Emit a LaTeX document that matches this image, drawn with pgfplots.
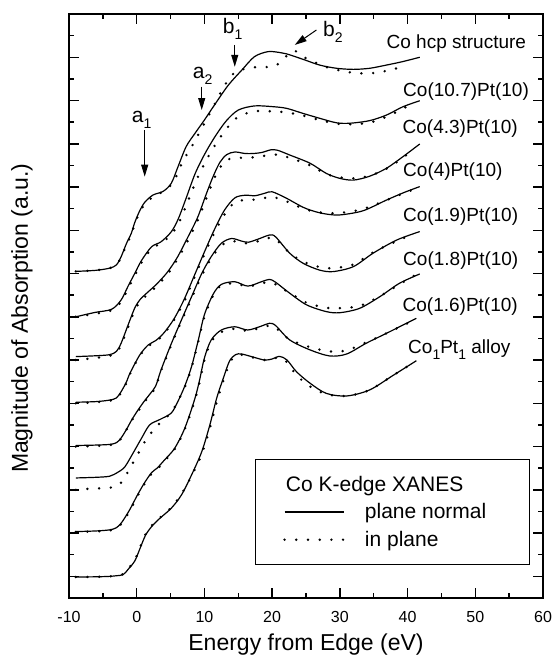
\documentclass[border=0pt]{standalone}
\usepackage{pgfplots}
\pgfplotsset{compat=1.18}
\usepackage{fontspec}
\setmainfont{Liberation Sans}
\usetikzlibrary{arrows.meta}
\tikzset{
  solidc/.style={black, line width=1.2pt, smooth, tension=0.5},
  dotc/.style={black, line width=2.7pt, line cap=round, dash pattern=on 0pt off 11.7pt, smooth, tension=0.5},
  ann/.style={black, line width=1pt, -{Triangle[length=12pt,width=7pt]}},
}
\newcommand{\sub}[1]{\raisebox{-6pt}{\fontsize{14}{14}\selectfont #1}}
\begin{document}
\begin{tikzpicture}
\useasboundingbox (-69pt,-62pt) rectangle (484pt,598pt);
\begin{axis}[
  at={(0,0)}, anchor=south west,
  scale only axis, width=474pt, height=584pt,
  xmin=-10, xmax=60, ymin=0, ymax=27,
  xtick={-10,0,...,60}, minor x tick num=1,
  xticklabels={{-10},0,10,20,30,40,50,60},
  ytick={1,3,...,25}, minor ytick={2,4,...,26},
  yticklabels={},
  xticklabel pos=bottom,
  xticklabel style={font=\fontsize{16}{16}\selectfont, inner sep=0pt, yshift=-13.5pt},
  axis line style={line width=1.8pt},
  every tick/.style={black, line width=1.5pt},
  major tick length=10pt, minor tick length=5pt,
  tick align=inside,
  clip=false,
  xlabel={Energy from Edge (eV)},
  xlabel style={font=\fontsize{23}{23}\selectfont, at={(axis description cs:0.5,-0.0805)}, anchor=center, inner sep=0pt},
  ylabel={Magnitude of Absorption (a.u.)},
  ylabel style={font=\fontsize{23}{23}\selectfont, at={(axis description cs:-0.0992,0.479)}, anchor=center, inner sep=0pt},
  legend style={at={(axis cs:17.43,6.43)}, anchor=north west, draw=black, line width=1pt, fill=white,
    font=\fontsize{21}{21}\selectfont, inner xsep=28pt, inner ysep=16.5pt, row sep=11pt,
    column sep=0pt, /tikz/every odd column/.append style={column sep=20pt},
    nodes={inner sep=0pt}},
  legend cell align=left,
  legend image code/.code={\draw[#1] (0pt,0pt) -- (59pt,0pt);},
]
% ---------- legend ----------
\addlegendimage{empty legend}
\addlegendentry{\hspace*{-79pt}Co K-edge XANES}
\addlegendimage{black, line width=1.2pt}
\addlegendentry{\makebox[137pt][l]{plane normal}}
\addlegendimage{black, line width=2.7pt, line cap=round, dash pattern=on 0pt off 11.7pt}
\addlegendentry{\makebox[137pt][l]{in plane}}

% ---------- Co hcp (offset 15) ----------
\addplot[solidc, forget plot] coordinates {(-9,15.1) (-6,15.15) (-4,15.25) (-3,15.4) (-2.3,15.78) (-1.5,16.4) (-0.8,16.86) (-0.3,17.35) (0.44,17.9) (1.2,18.3) (2.4,18.63) (3.9,18.8) (5.1,19.17) (6.1,19.94) (7.3,20.87) (8.6,21.48) (10,22.1) (11.5,22.8) (13.5,23.7) (15.5,24.4) (17.4,25.03) (19.4,25.26) (21.1,25.22) (22.1,25.16) (24.6,24.9) (27,24.64) (29.5,24.49) (32,24.44) (34.4,24.49) (36.9,24.64) (39.3,24.8) (41.8,25.0)};
\addplot[dotc, forget plot] coordinates {(-9,15.1) (-6,15.15) (-4,15.25) (-3,15.4) (-2.3,15.75) (-1.5,16.35) (-0.8,16.8) (-0.3,17.3) (0.44,17.85) (1.2,18.2) (2.4,18.55) (3.4,18.7) (5.1,19.1) (6,19.6) (6.8,20.2) (7.8,20.7) (8.8,21.25) (10.5,22.25) (11.3,22.7) (12.3,23.3) (13.2,23.8) (14.5,24.3) (16.4,24.5) (18.2,24.55) (19.9,24.55) (20.6,24.62) (21.5,24.85) (22.4,25.15) (23.3,25.3) (24.2,25.15) (25,24.95) (26.8,24.7) (28.5,24.5) (30.2,24.38) (32,24.28) (33.9,24.25) (35.7,24.3) (37.4,24.41) (39.3,24.56)};

% ---------- Co(10.7)Pt(10) (offset 13) ----------
\addplot[solidc, forget plot] coordinates {(-9,13.0) (-6.2,13.2) (-3.7,13.35) (-2.3,13.78) (-1.3,14.4) (-0.3,15.0) (0.7,15.6) (2.2,16.24) (3.6,16.47) (5.1,16.93) (6.1,17.5) (7.2,18.4) (8.6,19.6) (10,20.5) (11.5,21.3) (13.2,22.05) (15,22.56) (17.4,22.75) (19.9,22.72) (22.1,22.64) (24.6,22.4) (27,22.18) (29.5,21.97) (31.5,21.95) (34.4,22.07) (36.9,22.33) (39.3,22.71) (41.8,22.99)};
\addplot[dotc, forget plot] coordinates {(-9,13.0) (-6,13.15) (-3.7,13.3) (-2.3,13.7) (-1.3,14.3) (-0.3,14.9) (0.7,15.5) (2.2,16.15) (3.6,16.4) (5.1,16.8) (6.3,17.4) (7.5,18.3) (8.8,19.3) (10.2,20.2) (11.7,21.0) (13.4,21.75) (15,22.25) (17.4,22.5) (19.9,22.5) (22.1,22.45) (24.6,22.3) (27,22.1) (29.5,21.93) (31.5,21.9) (34.4,21.98) (36.9,22.25) (39.3,22.62) (41,22.9)};

% ---------- Co(4.3)Pt(10) (offset 11) ----------
\addplot[solidc, forget plot] coordinates {(-9,11.16) (-6,11.2) (-4,11.25) (-3,11.4) (-2.3,11.78) (-1.3,12.6) (-0.3,13.4) (0.5,13.8) (1.5,14.1) (2.9,14.5) (4.5,15.05) (6,15.75) (7.5,16.65) (9,17.6) (10.3,18.7) (11.3,19.5) (12.3,20.15) (13.3,20.5) (14.5,20.62) (16,20.55) (17.2,20.55) (18.5,20.6) (19.8,20.72) (20.8,20.7) (22.6,20.48) (25.6,20.1) (28,19.63) (30,19.4) (32,19.32) (34.4,19.5) (36.9,19.87) (39.3,20.4) (41.8,20.99)};
\addplot[dotc, forget plot] coordinates {(-9,11.0) (-6,11.1) (-4,11.2) (-3,11.35) (-2.3,11.7) (-1.3,12.5) (-0.3,13.3) (0.5,13.7) (1.5,14.0) (2.9,14.4) (4.5,14.95) (6,15.65) (7.5,16.5) (9,17.45) (10.3,18.5) (11.3,19.3) (12.3,19.9) (13.3,20.25) (14.5,20.35) (16,20.35) (17.5,20.38) (19,20.45) (20.5,20.5) (22.6,20.35) (25.6,20.0) (28,19.6) (30,19.45) (32,19.4) (34.4,19.52) (36.9,19.85) (39.3,20.35) (41,20.8)};

% ---------- Co(4)Pt(10) (offset 9) ----------
\addplot[solidc, forget plot] coordinates {(-9,9.05) (-6,9.08) (-4,9.15) (-3,9.25) (-2.3,9.54) (-1.5,10.0) (-1,10.39) (0.44,11.23) (1.7,11.7) (2.8,11.9) (4,12.25) (5.5,12.9) (7,13.8) (8.5,14.9) (10,16.0) (11.5,17.05) (13,17.95) (14.5,18.5) (16,18.62) (17.5,18.6) (19,18.72) (20,18.78) (22,18.5) (24.6,18.06) (26.5,17.85) (28,17.75) (30,17.71) (33.4,17.9) (36.9,18.4) (39.5,18.75) (41.8,19.02)};
\addplot[dotc, forget plot] coordinates {(-9,9.0) (-6,9.05) (-4,9.12) (-3,9.22) (-2.3,9.5) (-1.5,9.95) (-1,10.35) (0.44,11.2) (1.7,11.65) (2.8,11.85) (4,12.2) (5.5,12.85) (7,13.7) (8.5,14.8) (10,15.9) (11.5,16.9) (13,17.75) (14.5,18.3) (16,18.4) (17.5,18.42) (19,18.5) (20,18.55) (22,18.35) (24.6,18.0) (26.5,17.85) (28,17.8) (30,17.8) (33.4,17.98) (36.9,18.4) (39.5,18.72) (41,18.9)};

% ---------- Co(1.9)Pt(10) (offset 7) ----------
\addplot[solidc, forget plot] coordinates {(-9,7.05) (-6,7.07) (-4,7.1) (-3,7.18) (-2.3,7.4) (-1.5,7.8) (-0.8,8.2) (0,8.6) (1,9.05) (2,9.45) (2.8,9.8) (3.6,10.55) (5.1,11.75) (6.6,12.85) (8.1,13.93) (9.6,15.0) (11,15.78) (12.5,16.4) (14,16.62) (15.5,16.5) (16.5,16.45) (18,16.6) (19.6,16.78) (20.5,16.7) (22.6,15.94) (24.6,15.47) (27,15.16) (29,15.09) (32,15.32) (34.9,15.94) (38.4,16.55) (41.8,16.94)};
\addplot[dotc, forget plot] coordinates {(-9,7.0) (-6,7.03) (-4,7.07) (-3,7.15) (-2.3,7.38) (-1.5,7.78) (-0.8,8.18) (0,8.55) (1,9.0) (2,9.4) (2.8,9.75) (3.6,10.5) (5.1,11.7) (6.6,12.8) (8.1,13.85) (9.6,14.9) (11,15.7) (12.5,16.3) (14,16.5) (15.5,16.42) (16.5,16.4) (18,16.5) (19.6,16.65) (20.5,16.6) (22.6,15.95) (24.6,15.55) (27,15.3) (29,15.25) (32,15.42) (34.9,15.98) (38.4,16.5) (41,16.85)};

% ---------- Co(1.8)Pt(10) (offset 5) ----------
\addplot[solidc, forget plot] coordinates {(-9,5.55) (-6,5.58) (-4,5.63) (-2.8,5.81) (-2,5.98) (-1.5,6.18) (-0.5,6.72) (0.7,7.38) (1.9,8.0) (3.4,8.25) (5.1,8.55) (6.1,9.1) (7.1,9.8) (8.1,10.7) (9.1,11.93) (10,13.1) (11.3,14.05) (12.5,14.5) (14.5,14.62) (16.4,14.42) (18.4,14.62) (19.6,14.73) (20.5,14.6) (22.6,14.09) (25.1,13.55) (28,13.24) (30,13.19) (32.9,13.39) (35.9,13.93) (38.8,14.55) (41.8,14.98)};
\addplot[dotc, forget plot] coordinates {(-9,5.0) (-7,5.05) (-5,5.08) (-3,5.15) (-2,5.46) (-1,6.0) (0,6.55) (0.9,7.07) (1.9,7.54) (3.4,8.08) (5.1,8.58) (6.1,9.12) (7.1,9.75) (8.1,10.65) (9.1,11.85) (10,13.0) (11.3,14.0) (12.5,14.45) (14.5,14.55) (16.4,14.4) (18.4,14.55) (19.6,14.6) (20.5,14.5) (22.6,14.1) (25.1,13.65) (28,13.42) (30,13.4) (32.9,13.5) (35.9,13.95) (38.8,14.5) (41,14.9)};

% ---------- Co(1.6)Pt(10) (offset 3) ----------
\addplot[solidc, forget plot] coordinates {(-9,3.07) (-6,3.1) (-4,3.15) (-3,3.25) (-2.2,3.5) (-1,4.1) (0,4.7) (1.1,5.3) (2.2,5.8) (3,6.0) (4.1,6.38) (5.6,6.92) (7.1,7.85) (8.6,9.23) (9.3,10.1) (10,11.1) (11,11.93) (12.5,12.39) (14.5,12.54) (16.4,12.39) (18.4,12.57) (19.6,12.7) (20.5,12.6) (22.6,11.93) (25.6,11.47) (28.5,11.19) (31,11.28) (33.9,11.78) (36.9,12.24) (41.3,12.93)};
\addplot[dotc, forget plot] coordinates {(-9,3.05) (-6,3.08) (-4,3.12) (-3,3.22) (-2.2,3.45) (-1,4.05) (0,4.65) (1.1,5.25) (2.2,5.75) (3,5.95) (4.1,6.33) (5.6,6.88) (7.1,7.8) (8.6,9.15) (9.3,10.0) (10,11.0) (11,11.85) (12.5,12.3) (14.5,12.45) (16.4,12.35) (18.4,12.5) (19.6,12.6) (20.5,12.5) (22.6,11.95) (25.6,11.6) (28.5,11.4) (31,11.45) (33.9,11.82) (36.9,12.24) (41,12.85)};

% ---------- Co1Pt1 alloy (offset 1) ----------
\addplot[solidc, forget plot] coordinates {(-9,0.97) (-6,0.98) (-4,1.0) (-3,1.03) (-2,1.08) (-1.2,1.35) (-0.3,1.7) (0.5,2.3) (1.3,2.9) (2.2,3.3) (3.4,3.68) (5.1,4.15) (6.6,4.76) (8.1,5.69) (9.6,6.76) (10.8,8.0) (11.8,9.23) (12.7,10.08) (13.7,10.95) (14.6,11.25) (15.5,11.28) (17.4,11.12) (18.9,11.0) (20,11.05) (21.1,11.17) (22.2,11.0) (23.6,10.46) (25.6,9.93) (28,9.46) (31,9.34) (34.4,9.62) (37.9,10.3) (41.3,10.97)};
\addplot[dotc, forget plot] coordinates {(-9,0.97) (-6,0.98) (-4,1.0) (-3,1.03) (-2,1.1) (-1.2,1.38) (-0.3,1.75) (0.5,2.35) (1.3,2.95) (2.2,3.35) (3.4,3.7) (5.1,4.18) (6.6,4.8) (8.1,5.65) (9.6,6.65) (10.8,7.85) (11.8,9.05) (12.7,9.95) (13.7,10.85) (14.6,11.2) (15.5,11.25) (17.4,11.1) (18.9,11.0) (20,11.05) (21.1,11.12) (22.2,10.9) (23.6,10.3) (25.6,9.78) (28,9.42) (31,9.34) (34.4,9.62) (37.9,10.3) (41,10.9)};

% ---------- curve labels ----------
\begin{scope}[every node/.style={anchor=base west, inner sep=0pt, font=\fontsize{19}{19}\selectfont}]
\node at (axis cs:36.88,25.41) {Co hcp structure};
\node at (axis cs:39.33,23.18) {Co(10.7)Pt(10)};
\node at (axis cs:39.25,21.48) {Co(4.3)Pt(10)};
\node at (axis cs:39.33,19.48) {Co(4)Pt(10)};
\node at (axis cs:39.30,17.40) {Co(1.9)Pt(10)};
\node at (axis cs:39.33,15.36) {Co(1.8)Pt(10)};
\node at (axis cs:39.25,13.24) {Co(1.6)Pt(10)};
\node at (axis cs:40.07,11.31) {Co\sub{1}Pt\sub{1} alloy};
\end{scope}

% ---------- annotations ----------
\begin{scope}[every node/.style={anchor=base west, inner sep=0pt, font=\fontsize{21}{21}\selectfont}]
\node at (axis cs:-0.74,22.0) {a\sub{1}};
\node at (axis cs:8.27,24.04) {a\sub{2}};
\node at (axis cs:12.7,26.12) {b\sub{1}};
\node at (axis cs:27.5,25.95) {b\sub{2}};
\end{scope}
\draw[ann] (axis cs:1.18,21.64) -- (axis cs:1.18,19.48);
\draw[ann] (axis cs:9.6,23.64) -- (axis cs:9.6,22.56);
\draw[ann] (axis cs:14.48,25.57) -- (axis cs:14.48,24.56);
\draw[ann] (axis cs:26.54,26.26) -- (axis cs:23.34,25.57);
\end{axis}
\end{tikzpicture}
\end{document}
